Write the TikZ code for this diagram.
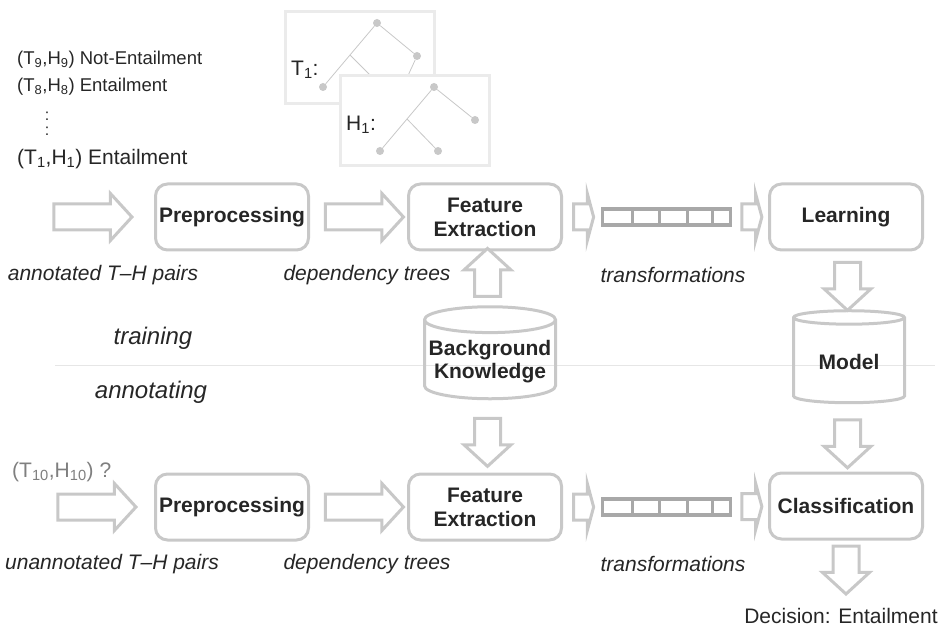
\documentclass[tikz,border=0pt]{standalone}
\usepackage{fontspec}
\setmainfont{Liberation Sans}
\usetikzlibrary{positioning,calc,shapes.arrows,shapes.geometric}

\definecolor{boxgray}{HTML}{C8C8C8}
\definecolor{vecgray}{HTML}{A8A8A8}
\definecolor{txtgray}{HTML}{262626}
\definecolor{framegray}{HTML}{EBEBEB}
\definecolor{divgray}{HTML}{E6E6E6}
\definecolor{qgray}{HTML}{7F7F7F}

\tikzset{
  proc/.style={draw=boxgray, line width=3pt, rounded corners=12pt,
    minimum width=153pt, minimum height=66pt, align=center, text=txtgray,
    font=\fontsize{21}{24}\selectfont\bfseries},
  db/.style={cylinder, shape border rotate=90, draw=boxgray, line width=3pt,
    aspect=0.2, minimum height=92pt, align=center, text=txtgray,
    font=\fontsize{21}{23}\selectfont\bfseries},
  fatarrow/.style={single arrow, draw=boxgray, line width=3pt, fill=white,
    inner xsep=0pt, inner ysep=11.5pt, text height=0pt, text depth=0pt,
    single arrow head extend=10.5pt, single arrow tip angle=95},
  vfatarrow/.style={fatarrow, inner xsep=11.5pt, inner ysep=0pt, minimum height=48pt},
  slimarrow/.style={fatarrow, single arrow tip angle=150, minimum height=20pt},
  vecbox/.style={draw=vecgray, line width=3.5pt, minimum width=128pt,
    minimum height=16pt, inner sep=0pt},
  lbl/.style={text=txtgray, font=\fontsize{21}{24}\selectfont\itshape},
  mode/.style={text=txtgray, font=\fontsize{24}{28}\selectfont\itshape},
  pair/.style={anchor=west, text=txtgray, inner sep=0pt},
  tdot/.style={circle, fill=boxgray, minimum size=8pt, inner sep=0pt},
  tedge/.style={draw=boxgray, line width=0.8pt},
  tframe/.style={draw=framegray, line width=3pt},
}

\begin{document}
\begin{tikzpicture}[x=1pt, y=-1pt]
\useasboundingbox (0,0) rectangle (945,628);

\draw[divgray, line width=1pt] (55,365) -- (935,365);

% training examples
\node[pair, font=\fontsize{18.5}{20}\selectfont] (p9) at (17,60) {(T\textsubscript{9},H\textsubscript{9}) Not-Entailment};
\node[pair, font=\fontsize{18.5}{20}\selectfont] (p8) at (17,87) {(T\textsubscript{8},H\textsubscript{8}) Entailment};
\node[text=txtgray, align=center, font=\fontsize{16}{15}\selectfont] (pv) at (47,124) {:\\:};
\node[pair, font=\fontsize{21}{24}\selectfont] (p1) at (17,159) {(T\textsubscript{1},H\textsubscript{1}) Entailment};

% dependency trees
\draw[tframe] (285.5,11.5) rectangle (434.5,103.5);
\node[anchor=west, text=txtgray, inner sep=0pt, font=\fontsize{21}{24}\selectfont] (tl) at (291,70) {T\textsubscript{1}:};
\node[tdot] (t0) at (377,23) {};
\node[tdot] (t1) at (417,56) {};
\node[tdot] (t2) at (323,87) {};
\node[tdot] (t3) at (388,93) {};
\node[tdot] (t4) at (400,93) {};
\coordinate (tb) at (350,55);
\draw[tedge] (t0) -- (tb) -- (t2);
\draw[tedge] (tb) -- (t3);
\draw[tedge] (t0) -- (t1) -- (t4);

\draw[tframe, fill=white] (340.5,75.5) rectangle (489.5,165.5);
\node[anchor=west, text=txtgray, inner sep=0pt, font=\fontsize{21}{24}\selectfont] (hl) at (346,125) {H\textsubscript{1}:};
\node[tdot] (h0) at (434,87) {};
\node[tdot] (h1) at (475,120) {};
\node[tdot] (h2) at (380,151) {};
\node[tdot] (h3) at (438,151) {};
\coordinate (hb) at (407,119);
\draw[tedge] (h0) -- (h1);
\draw[tedge] (h0) -- (hb) -- (h2);
\draw[tedge] (hb) -- (h3);

% training row
\node[proc] (pre1) at (232,217) {Preprocessing};
\node[proc] (fe1) at (485,217) {Feature\\Extraction};
\node[vecbox] (vec1) at (666.5,217) {};
\node[proc] (learn) at (846,217) {Learning};
\foreach \f in {0.24,0.45,0.66,0.85}
  \draw[vecgray, line width=3pt] ($(vec1.south west)!\f!(vec1.south east)$) -- ($(vec1.north west)!\f!(vec1.north east)$);

\node[fatarrow, minimum height=78pt, left=20pt of pre1] (in1) {};
\node[fatarrow, minimum height=78pt] (a1) at ($(pre1.east)!0.5!(fe1.west)$) {};
\node[slimarrow] (b1) at ($(fe1.east)!0.5!(vec1.west)$) {};
\node[slimarrow] (c1) at ($(vec1.east)!0.5!(learn.west)$) {};

\node[lbl] (l1) at (103,275) {annotated T–H pairs};
\node[lbl] (l2) at (367,275) {dependency trees};
\node[lbl] (l3) at (673,275) {transformations};

% shared stores
\node[db, minimum width=131pt] (bk) at (490,362) {Background\\Knowledge};
\node[db, minimum width=111pt] (model) at (849,362) {Model};
\node[vfatarrow, shape border rotate=90] (u1) at ($(bk.top)!0.5!(fe1.south)$) {};
\node[vfatarrow, shape border rotate=270] (d1) at ($(learn.south)!0.5!(model.top)$) {};

\node[mode] (tr) at (153,338) {training};
\node[mode] (an) at (151,392) {annotating};

% annotating row
\node[proc] (pre2) at (232,507) {Preprocessing};
\node[proc] (fe2) at (485,507) {Feature\\Extraction};
\node[vecbox] (vec2) at (666.5,507) {};
\node[proc] (cls) at (846,506) {Classification};
\foreach \f in {0.24,0.45,0.66,0.85}
  \draw[vecgray, line width=3pt] ($(vec2.south west)!\f!(vec2.south east)$) -- ($(vec2.north west)!\f!(vec2.north east)$);

\node[fatarrow, minimum height=78pt, left=16pt of pre2] (in2) {};
\node[fatarrow, minimum height=78pt] (a2) at ($(pre2.east)!0.5!(fe2.west)$) {};
\node[slimarrow] (b2) at ($(fe2.east)!0.5!(vec2.west)$) {};
\node[slimarrow] (c2) at ($(vec2.east)!0.5!(cls.west)$) {};
\node[vfatarrow, shape border rotate=270] (d2) at ($(bk.bottom)!0.5!(fe2.north)$) {};
\node[vfatarrow, shape border rotate=270] (d3) at ($(model.bottom)!0.5!(cls.north)$) {};
\node[vfatarrow, shape border rotate=270, below=4pt of cls] (d4) {};

\node[pair, text=qgray, font=\fontsize{21}{24}\selectfont] (p10) at (12,472) {(T\textsubscript{10},H\textsubscript{10}) ?};
\node[lbl] (m1) at (112,564) {unannotated T–H pairs};
\node[lbl] (m2) at (367,564) {dependency trees};
\node[lbl] (m3) at (673,564) {transformations};
\node[text=txtgray, font=\fontsize{21}{24}\selectfont] (dec) at (841,616) {Decision: Entailment};
\end{tikzpicture}
\end{document}
